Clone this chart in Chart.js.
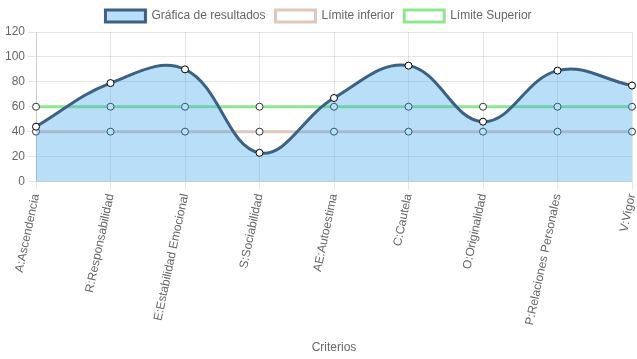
<!DOCTYPE html>
<html><head><meta charset="utf-8">
<script src="https://cdn.jsdelivr.net/npm/chart.js@4"></script>
<style>html,body{margin:0;padding:0;background:#fff}#wrap{width:637px;height:359px}</style>
</head><body><div id="wrap"><canvas id="c"></canvas></div>
<script>
const categories = ["A:Ascendencia","R:Responsabilidad","E:Estabilidad Emocional","S:Sociabilidad","AE:Autoestima","C:Cautela","O:Originalidad","P:Relaciones Personales","V:Vigor"];
const resultados = [44, 79, 90, 23, 67, 93, 48, 89, 77];
const limiteInferior = [40, 40, 40, 40, 40, 40, 40, 40, 40];
const limiteSuperior = [60, 60, 60, 60, 60, 60, 60, 60, 60];
const yTicks = [0, 20, 40, 60, 80, 100, 120];

Chart.defaults.font.family = "Arial, 'Liberation Sans', Helvetica, sans-serif";
Chart.defaults.font.size = 12;
Chart.defaults.color = '#666';

new Chart(document.getElementById('c'), {
  type: 'line',
  data: {
    labels: categories,
    datasets: [
      {label: 'Gráfica de resultados', data: resultados, borderColor: 'rgb(62,96,130)', backgroundColor: 'rgba(54,162,235,0.35)', fill: 'origin', tension: 0.4, borderWidth: 3, pointBackgroundColor: '#fff', pointBorderColor: '#000', pointBorderWidth: 1, pointRadius: 3.5},
      {label: 'Límite inferior', data: limiteInferior, borderColor: 'rgb(225,200,190)', backgroundColor: '#fff', fill: false, tension: 0.4, borderWidth: 3, pointBackgroundColor: '#fff', pointBorderColor: '#333', pointBorderWidth: 1, pointRadius: 3.5},
      {label: 'Límite Superior', data: limiteSuperior, borderColor: 'rgb(144,230,144)', backgroundColor: '#fff', fill: false, tension: 0.4, borderWidth: 3, pointBackgroundColor: '#fff', pointBorderColor: '#333', pointBorderWidth: 1, pointRadius: 3.5}
    ]
  },
  options: {
    responsive: true, maintainAspectRatio: false, animation: false,
    plugins: {
      legend: {labels: {boxWidth: 40, boxHeight: 12, padding: 10}},
      tooltip: {enabled: false}
    },
    scales: {
      y: {min: 0, max: 120, ticks: {stepSize: 20}, grid: {color: 'rgba(0,0,0,0.1)'},
          afterFit: s => { s.width = 36; }},
      x: {title: {display: true, text: 'Criterios', padding: {top: 11, bottom: 4}},
          ticks: {minRotation: 78, maxRotation: 78, autoSkip: false}, grid: {color: 'rgba(0,0,0,0.1)'},
          afterFit: s => { s.paddingRight = 4; s.paddingLeft = 0; }}
    }
  }
});
</script></body></html>
